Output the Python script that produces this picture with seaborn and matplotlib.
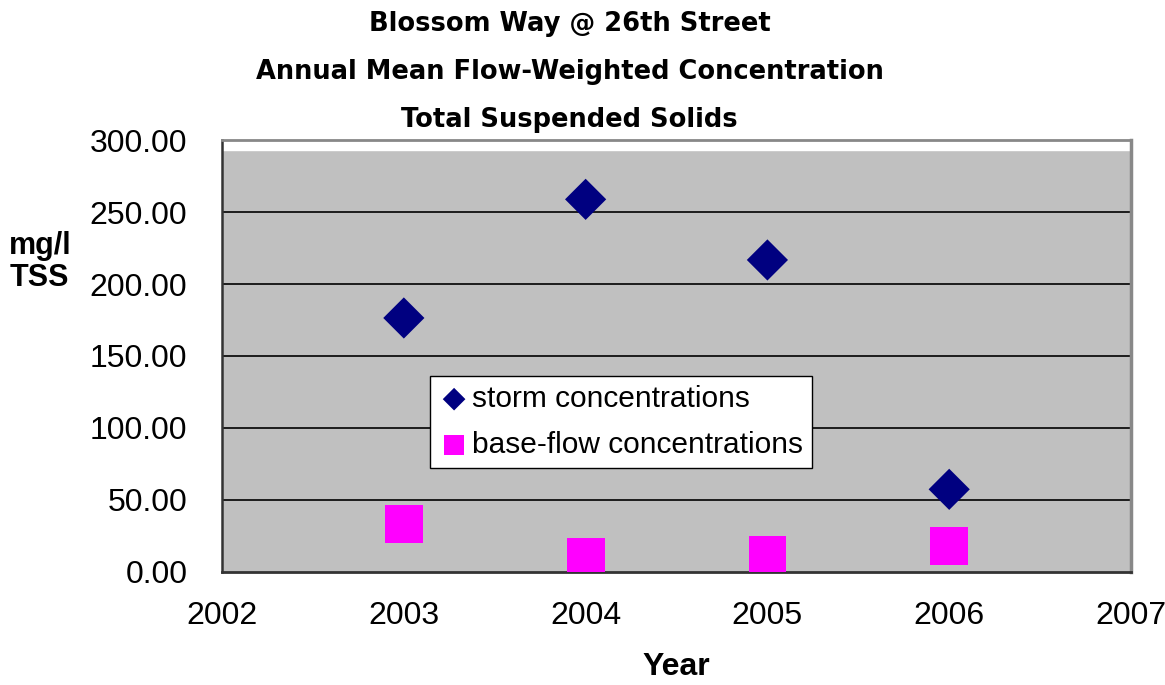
import matplotlib
matplotlib.use("Agg")
import matplotlib.pyplot as plt
import seaborn as sns
import pandas as pd

# values
years = [2003, 2004, 2005, 2006]
storm = [176.4, 258.8, 216.7, 57.4]
baseflow = [33.5, 10.4, 11.8, 18.3]
yticks = [0, 50, 100, 150, 200, 250, 300]
xticks = [2002, 2003, 2004, 2005, 2006, 2007]

df = pd.DataFrame({"Year": years, "storm": storm, "base": baseflow})

sns.set_style("white")
plt.rcParams["font.family"] = ["Liberation Sans", "DejaVu Sans"]
plt.rcParams["text.color"] = "black"
plt.rcParams["axes.labelcolor"] = "black"
plt.rcParams["xtick.color"] = "black"
plt.rcParams["ytick.color"] = "black"

fig = plt.figure(figsize=(11.65, 6.85), dpi=100)
ax = fig.add_axes([0.1906, 0.165, 0.7802, 0.6306])
ax.set_facecolor("#c0c0c0")

sns.scatterplot(data=df, x="Year", y="storm", marker="D", s=440, color="#000080",
                edgecolor="none", label="storm concentrations", ax=ax, zorder=3)
sns.scatterplot(data=df, x="Year", y="base", marker="s", s=740, color="#ff00ff",
                edgecolor="none", label="base-flow concentrations", ax=ax, zorder=3)

ax.set_xlim(2002, 2007)
ax.set_ylim(0, 300)
# white strip at the top of the plot area, as in the original
ax.axhspan(293.2, 300, color="white", zorder=1)
ax.set_yticks(yticks)
ax.set_yticklabels([f"{v:.2f}" for v in yticks], fontsize=23)
ax.set_xticks(xticks)
ax.set_xticklabels([str(v) for v in xticks], fontsize=23)
ax.tick_params(axis="both", direction="out", length=8, width=1.5, pad=8)
ax.tick_params(axis="y", pad=17)
ax.tick_params(axis="x", pad=13)

for v in yticks[1:-1]:
    ax.axhline(v, color="black", lw=1.2, zorder=2)

ax.spines["left"].set_color("#333333")
ax.spines["left"].set_linewidth(1.8)
ax.spines["bottom"].set_color("#333333")
ax.spines["bottom"].set_linewidth(2)
ax.spines["top"].set_color("#888888")
ax.spines["top"].set_linewidth(2)
ax.spines["right"].set_color("#888888")
ax.spines["right"].set_linewidth(2.5)

ax.set_xlabel("Year", fontsize=23, fontweight="bold", labelpad=15)
ax.set_ylabel("")
fig.text(0.008, 0.618, "mg/l\nTSS", fontsize=22, fontweight="bold", ha="left", va="center",
         linespacing=1.1)

titles = ["Blossom Way @ 26th Street",
          "Annual Mean Flow-Weighted Concentration",
          "Total Suspended Solids"]
for i, t in enumerate(titles):
    fig.text(0.489, 1 - (24 + 48 * i) / 685, t, fontsize=18.5, fontweight="bold",
             family="DejaVu Sans", ha="center", va="center")

leg = ax.legend(loc="lower left", bbox_to_anchor=(0.229, 0.241), fontsize=21.5,
                frameon=True, fancybox=False, borderpad=0.3, handletextpad=0.1,
                labelspacing=0.6, handlelength=1.0, markerscale=0.55, borderaxespad=0)
leg.get_frame().set_edgecolor("black")
leg.get_frame().set_facecolor("white")
leg.get_frame().set_alpha(1)
leg.get_frame().set_linewidth(1)

fig.savefig("out.png", dpi=100)
